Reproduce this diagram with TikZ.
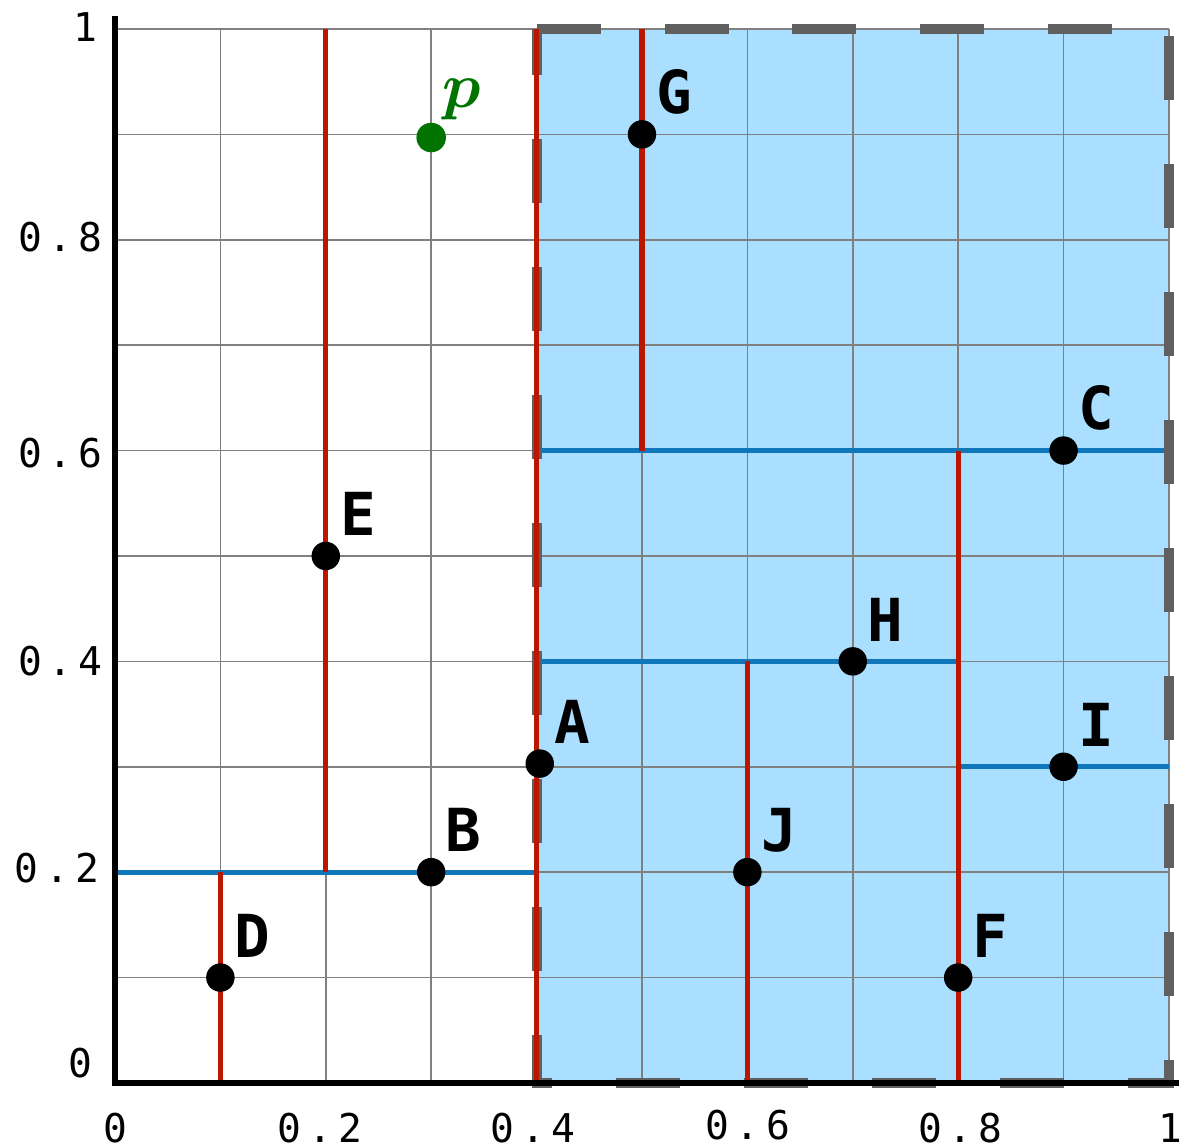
\documentclass[tikz,border=0pt]{standalone}
\usepackage{fontspec}
\usepackage{bm}
\newfontfamily\ptfont{DejaVu Sans Mono}
\newfontfamily\tickfont[LetterSpace=16]{DejaVu Sans Mono}
\definecolor{cellblue}{RGB}{170,223,255}
\definecolor{splitred}{RGB}{187,22,0}
\definecolor{splitblue}{RGB}{17,119,187}
\definecolor{qgreen}{RGB}{0,115,0}
\definecolor{boxgray}{RGB}{96,96,96}
\begin{document}
\begin{tikzpicture}[x=10cm,y=10cm,
  pt/.style={circle,fill=black,inner sep=0pt,minimum size=2.7mm},
  lbl/.style={font=\ptfont\bfseries\fontsize{16}{16}\selectfont,inner sep=0pt,xshift=0.3mm,yshift=0.85mm},
  plbl/.style={font=\fontsize{17}{17}\selectfont,text=qgreen,inner sep=0pt,yshift=0.6mm},
  ticklbl/.style={font=\tickfont\fontsize{10.7}{12}\selectfont,inner sep=0pt},
  xsplit/.style={splitred,line width=1.4pt},
  ysplit/.style={splitblue,line width=1.4pt}]
\useasboundingbox (-0.1091,-0.0588) rectangle (1.0095,1.0275);
% query cell
\fill[cellblue] (0.4,0) rectangle (1,1);
\foreach \g in {1,...,10} {
  \draw[gray,line width=0.45pt] (\g/10,0) -- (\g/10,1);
  \draw[gray,line width=0.45pt] (0,\g/10) -- (1,\g/10);
}
% horizontal splits
\draw[ysplit] (0,0.2) -- (0.4,0.2);
\draw[ysplit] (0.4,0.6) -- (1,0.6);
\draw[ysplit] (0.4,0.4) -- (0.8,0.4);
\draw[ysplit] (0.8,0.3) -- (1,0.3);
\draw[boxgray,line width=2.7pt,dash pattern=on 6.07mm off 6.07mm]
  (0.4,1) -- (1,1) -- (1,0) -- (0.4,0) -- cycle;
% vertical splits
\draw[xsplit] (0.4,0) -- (0.4,1);
\draw[xsplit] (0.2,0.2) -- (0.2,1);
\draw[xsplit] (0.1,0) -- (0.1,0.2);
\draw[xsplit] (0.5,0.6) -- (0.5,1);
\draw[xsplit] (0.8,0) -- (0.8,0.6);
\draw[xsplit] (0.6,0) -- (0.6,0.4);
\draw[line width=1.5pt] (0,1.0125) -- (0,0) -- (1.0125,0);
% points
\node[pt,label={[lbl]45:A}] (A) at (0.403,0.303) {};
\node[pt,label={[lbl]45:B}] (B) at (0.3,0.2) {};
\node[pt,label={[lbl]45:C}] (C) at (0.9,0.6) {};
\node[pt,label={[lbl]45:D}] (D) at (0.1,0.1) {};
\node[pt,label={[lbl]45:E}] (E) at (0.2,0.5) {};
\node[pt,label={[lbl]45:F}] (F) at (0.8,0.1) {};
\node[pt,label={[lbl]45:G}] (G) at (0.5,0.9) {};
\node[pt,label={[lbl]45:H}] (H) at (0.7,0.4) {};
\node[pt,label={[lbl]45:I}] (I) at (0.9,0.3) {};
\node[pt,label={[lbl]45:J}] (J) at (0.6,0.2) {};
\node[pt,fill=qgreen,minimum size=2.8mm,label={[plbl]45:$\bm{p}$}] (p) at (0.3,0.897) {};
% axis labels
\node[ticklbl] (y0) at (-0.033,0.019) {0};
\node[ticklbl] (y2) at (-0.055,0.204) {0.2};
\node[ticklbl] (y4) at (-0.052,0.4) {0.4};
\node[ticklbl] (y6) at (-0.052,0.598) {0.6};
\node[ticklbl] (y8) at (-0.052,0.8025) {0.8};
\node[ticklbl] (y10) at (-0.0285,1.002) {1};
\node[ticklbl] (x0) at (0,-0.0427) {0};
\node[ticklbl] (x2) at (0.1945,-0.0427) {0.2};
\node[ticklbl] (x4) at (0.3966,-0.0427) {0.4};
\node[ticklbl] (x6) at (0.6005,-0.040) {0.6};
\node[ticklbl] (x8) at (0.802,-0.0427) {0.8};
\node[ticklbl] (x10) at (1.001,-0.0427) {1};
\end{tikzpicture}
\end{document}
